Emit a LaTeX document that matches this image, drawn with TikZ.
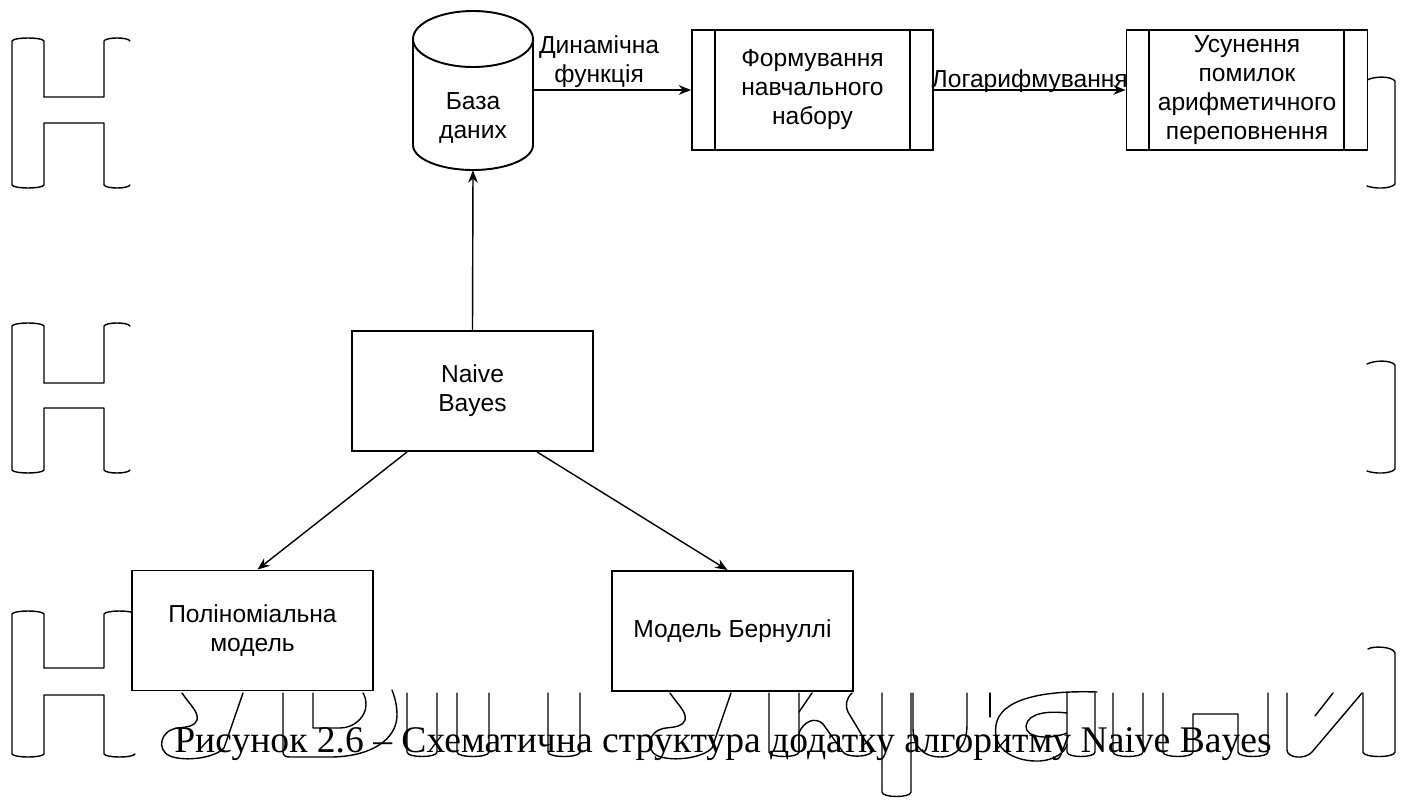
\documentclass[tikz,border=0pt]{standalone}
\usepackage{fontspec}
\setmainfont{Liberation Serif}
\setsansfont{Liberation Sans}
\usetikzlibrary{arrows.meta,calc}
\newcommand\wmstem[4]{\draw[wm] (#1,#3) -- ({#1},{#4-5}) .. controls ({#1},{#4+1}) and ({#2},{#4+1}) .. ({#2},{#4-5}) -- (#2,#3);}
\newcommand\wmH[6]{% x-left, y-top, y-bottom, bar-top, bar-bottom, right-outer
  \draw[wm] (44,#4) -- (44,{#2+3}) .. controls (42,{#2-1}) and (14,{#2-1}) .. (12,{#2+3}) -- (12,{#3-3}) .. controls (14,{#3+1}) and (42,{#3+1}) .. (44,{#3-3}) -- (44,#5) -- (104,#5) -- (104,{#3-3}) .. controls (106,{#3+1}) and ({#6-2},{#3+1}) .. (#6,{#3-3});
  \draw[wm] (44,#4) -- (104,#4) -- (104,{#2+3}) .. controls (106,{#2-1}) and ({#6-2},{#2-1}) .. (#6,{#2+3});}
\begin{document}
\begin{tikzpicture}[x=0.02cm,y=-0.02cm,
  box/.style={draw, line width=1.1pt, fill=white, minimum width=4.82cm, minimum height=2.4cm, align=center, font=\sffamily\fontsize{14}{16.5}\selectfont, inner sep=0pt},
  lbl/.style={font=\sffamily\fontsize{14}{16.5}\selectfont, align=center, inner sep=1pt},
  arr/.style={-{Stealth[length=7pt,width=5.5pt]}, line width=0.8pt},
  wm/.style={line width=0.8pt, line cap=round, line join=round},
  cyl/.style={line width=1.1pt},
]
\useasboundingbox (0,0) rectangle (1411,801);

% ---------- watermark ----------
\wmH{12}{38}{188}{97}{123}{130}
\wmH{12}{323}{473}{383}{408}{130}
\wmH{12}{611}{757}{668}{695}{135}
% right brackets
\draw[wm] (1367,80) .. controls (1375,76) and (1391,76) .. (1395,81) -- (1395,184) .. controls (1391,189) and (1375,189) .. (1367,186);
\draw[wm] (1367,364) .. controls (1375,360) and (1391,360) .. (1395,365) -- (1395,469) .. controls (1391,474) and (1375,474) .. (1367,471);
% row 3 letters
\draw[wm] (182,693) .. controls (190,705) and (199,712) .. (197,720) .. controls (195,726) and (188,727) .. (178,728) .. controls (160,730) and (156,750) .. (170,756) .. controls (185,762) and (215,758) .. (224,748) -- (243,693);
\draw[wm] (283,693) -- (283,752) .. controls (283,756) and (286,757) .. (290,757) -- (330,757) .. controls (370,757) and (397,740) .. (397,715) .. controls (397,705) and (395,698) .. (392,690);
\draw[wm] (313,693) -- (313,728) -- (340,728) .. controls (355,728) and (366,716) .. (366,705) .. controls (366,700) and (365,696) .. (363,693);
\wmstem{407}{437}{693}{757}
\wmstem{457}{489}{693}{757}
\wmstem{548}{580}{693}{757}
\draw[wm] (670,693) .. controls (678,705) and (687,712) .. (685,720) .. controls (683,726) and (676,727) .. (666,728) .. controls (648,730) and (644,750) .. (658,756) .. controls (673,762) and (703,758) .. (712,748) -- (731,693);
\wmstem{769}{799}{693}{757}
\draw[wm] (799,752) -- (799,733) .. controls (803,722) and (815,716) .. (823,724) -- (843,752) .. controls (846,757) and (866,758) .. (872,752) -- (848,712) .. controls (845,705) and (846,699) .. (852,693);
\draw[wm] (812,693) -- (799,712);
\wmstem{882}{911}{693}{797}
\draw[wm] (913,693) -- (913,728) .. controls (913,748) and (925,757) .. (940,757) .. controls (957,757) and (967,745) .. (967,725) -- (967,693);
\draw[wm] (990,693) -- (990,717);
\draw[wm] (1097,692) .. controls (1040,690) and (1000,700) .. (996,725) .. controls (992,750) and (1015,762) .. (1040,761) .. controls (1055,760) and (1065,752) .. (1067,745);
\draw[wm] (1067,713) .. controls (1050,711) and (1028,712) .. (1026,726) .. controls (1025,738) and (1050,740) .. (1067,733);
\wmstem{1067}{1095}{693}{757}
\wmstem{1113}{1143}{693}{757}
\draw[wm] (1163,693) -- (1163,752) .. controls (1163,758) and (1193,758) .. (1193,752) -- (1193,714) -- (1238,714) -- (1238,752) .. controls (1238,758) and (1268,758) .. (1268,752) -- (1268,693);
\draw[wm] (1287,693) -- (1287,750) .. controls (1287,758) and (1305,760) .. (1312,752) -- (1362,693);
\draw[wm] (1315,716) -- (1333,693);
\draw[wm] (1363,693) -- (1363,752) .. controls (1363,758) and (1395,758) .. (1395,752) -- (1395,653) .. controls (1393,646) and (1372,646) .. (1368,649);

% ---------- diagram ----------
\node[minimum width=2.42cm, minimum height=3.18cm, inner sep=0pt] (db) at (473,90.5) {};
\draw[cyl] (413,39) -- (413,145) .. controls (413,158.8) and (439.9,170) .. (473,170) .. controls (506.1,170) and (533,158.8) .. (533,145) -- (533,39);
\draw[cyl] (473,39) ellipse [x radius=1.2cm, y radius=0.56cm];
\node[lbl] (dbt) at (473,118) {База\\даних};

\node[box] (form) at (812.5,90) {Формування\\навчального\\набору};
\draw[line width=1.1pt] ($(form.north west)+(24,0)$) -- ($(form.south west)+(24,0)$);
\draw[line width=1.1pt] ($(form.north east)+(-24,0)$) -- ($(form.south east)+(-24,0)$);

\node[box] (usun) at (1247,90) {Усунення\\помилок\\арифметичного\\переповнення};
\draw[line width=1.1pt] ($(usun.north west)+(23,0)$) -- ($(usun.south west)+(23,0)$);
\draw[line width=1.1pt] ($(usun.north east)+(-24,0)$) -- ($(usun.south east)+(-24,0)$);

\node[box] (nb) at (472.5,391) {Naive\\Bayes};
\node[box] (poly) at (252.5,630.5) {Поліноміальна\\модель};
\node[box] (bern) at (732.5,631) {Модель Бернуллі};

\draw[arr] (db.east |- form.west) -- node[lbl, above, pos=0.415] {Динамічна\\функція} (form.west);
\draw[arr] (form.east) -- node[lbl, anchor=base, yshift=1.5pt, inner sep=0pt] {Логарифмування} (usun.west);
\draw[arr] (nb.north) -- (db.south);
\draw[arr] ($(nb.south west)+(56,0)$) -- ($(poly.north)+(5,0)$);
\draw[arr] ($(nb.south west)+(186,0)$) -- ($(bern.north)+(-5,0)$);

\node[font=\fontsize{21.4}{25}\selectfont, anchor=base, inner sep=0pt] (cap) at (723,752) {Рисунок 2.6 – Схематична структура додатку алгоритму Naive Bayes};
\end{tikzpicture}
\end{document}
